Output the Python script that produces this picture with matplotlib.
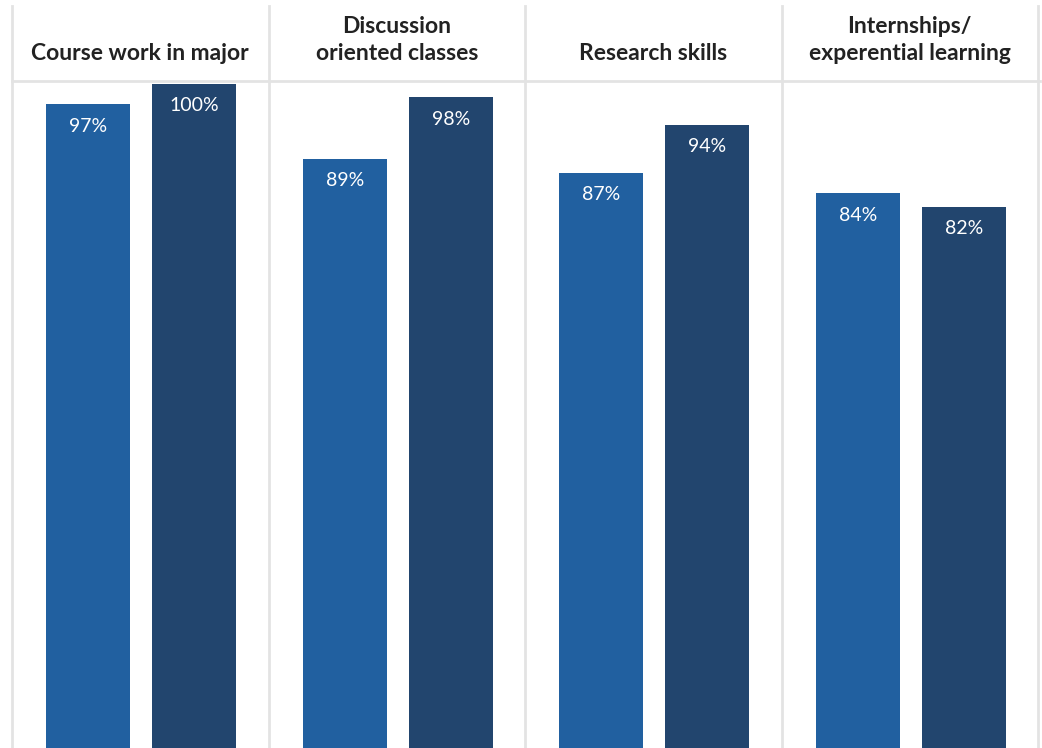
import matplotlib.pyplot as plt
from matplotlib.lines import Line2D

# data
categories = ['Course work in major', 'Discussion\noriented classes',
              'Research skills', 'Internships/\nexperential learning']
series_a = [97, 89, 87, 84]
series_b = [100, 98, 94, 82]

col_a = '#2160A0'
col_b = '#22456E'
grid_col = '#E3E3E3'
W, H = 1042, 748

fig = plt.figure(figsize=(W / 100, H / 100), dpi=100)
# plot area: x 12..1038 px, y from 81 px (top) to bottom edge
ax = fig.add_axes([12 / W, 0, (1038 - 12) / W, (H - 81) / H])

n = len(categories)
xs = list(range(n))
bw = 84 / 256
off_a = 76 / 256
off_b = 182 / 256

bars_a = ax.bar([x + off_a for x in xs], series_a, width=bw, color=col_a, zorder=2)
bars_b = ax.bar([x + off_b for x in xs], series_b, width=bw, color=col_b, zorder=2)

for bars, vals in ((bars_a, series_a), (bars_b, series_b)):
    for b, v in zip(bars, vals):
        ax.annotate(f'{v}%', (b.get_x() + b.get_width() / 2, v),
                    xytext=(0, -22), textcoords='offset pixels',
                    ha='center', va='center', color='white',
                    fontsize=14, family='Lato')

ax.set_xlim(0, n)
ax.set_ylim(2.8, 100.4)
ax.axis('off')

# separators
for i in range(n + 1):
    x = (12 + i * (1038 - 12) / n) / W
    fig.add_artist(Line2D([x, x], [0, 1 - 6 / H], color=grid_col, lw=2, zorder=0))
fig.add_artist(Line2D([12 / W, 1040 / W], [1 - 81 / H, 1 - 81 / H],
                      color=grid_col, lw=2, zorder=0))

# headers
for i, cat in enumerate(categories):
    cx = (12 + (i + 0.5) * (1038 - 12) / n) / W
    lines = cat.split('\n')[::-1]
    for k, line in enumerate(lines):
        fig.text(cx, 1 - (60 - 27 * k) / H, line, ha='center', va='baseline',
                 fontsize=16.5, fontweight='bold', family='Lato', color='#222222')

fig.savefig('out.png', dpi=100, facecolor='white')
